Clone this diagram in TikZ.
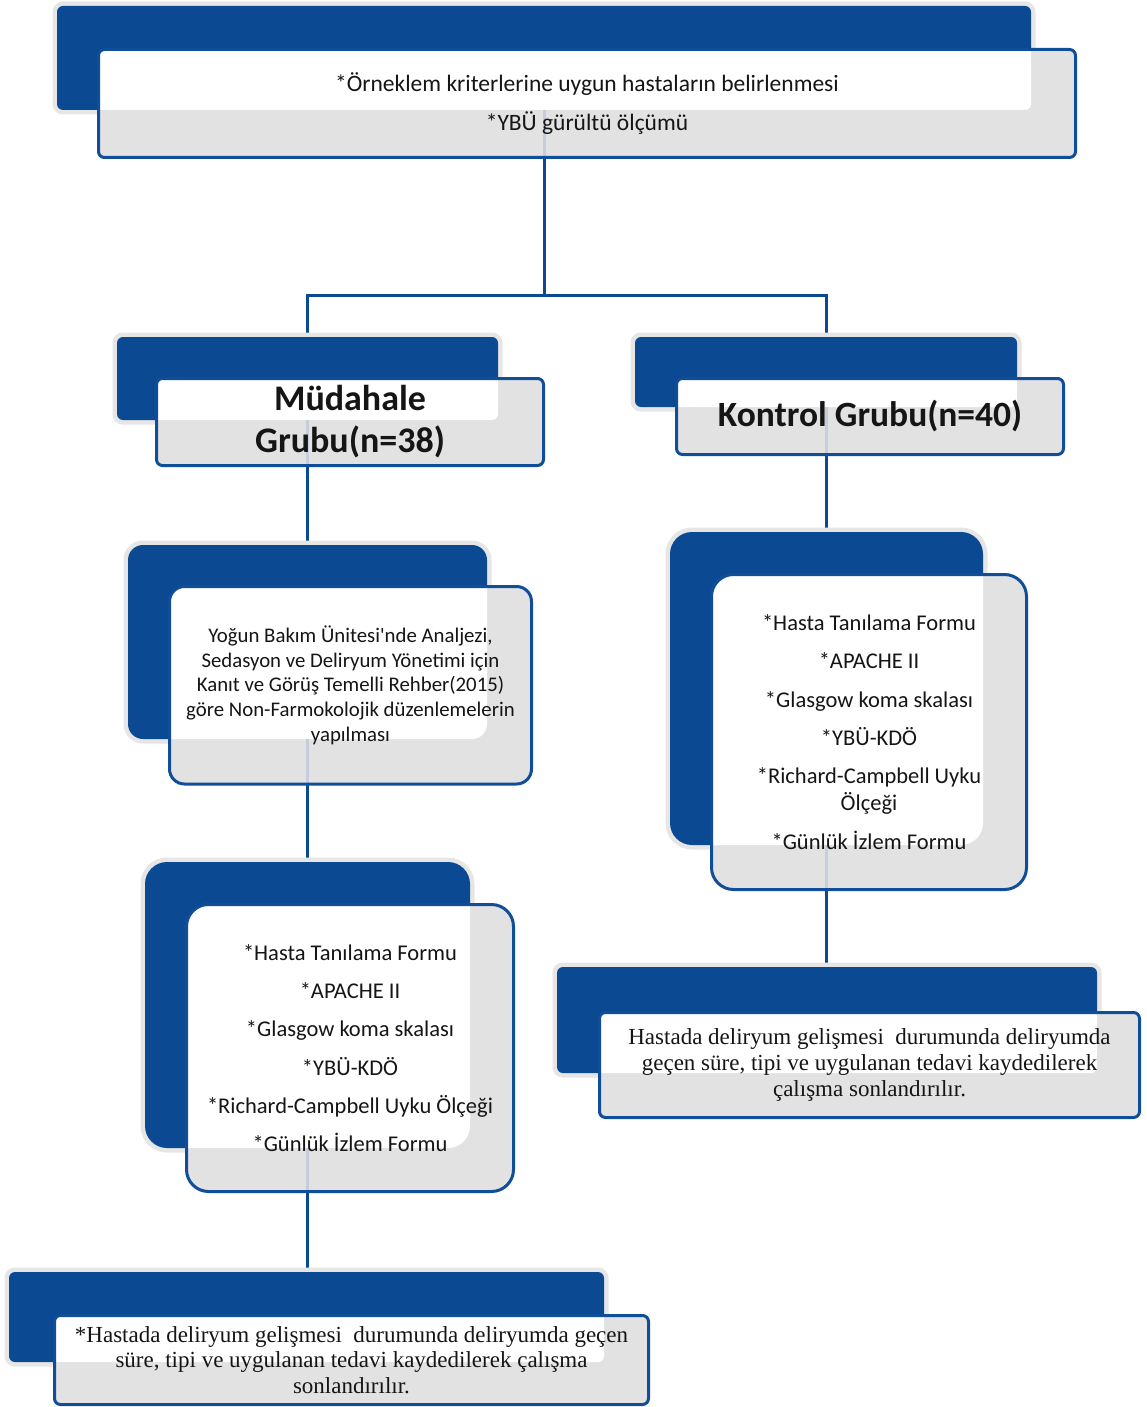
\documentclass[tikz,border=0pt]{standalone}
\usepackage{fontspec}
\setmainfont{Carlito}
\newfontfamily\tnr{Liberation Serif}
\usetikzlibrary{fit}
\pgfdeclarelayer{bg}
\pgfsetlayers{bg,main}
\definecolor{navy}{HTML}{0B4A93}
\definecolor{edgeblue}{HTML}{114E99}
\definecolor{frontgrey}{HTML}{E2E2E2}
\definecolor{halo}{HTML}{E6E6E6}
\definecolor{ghost}{HTML}{C5CEDA}
\definecolor{ink}{HTML}{151515}
\tikzset{
  conn/.style={draw=navy, line width=3pt},
  ghostline/.style={draw=ghost, line width=3pt, shorten >=1.5pt},
  txt/.style={align=center, text=ink, inner sep=0pt},
}
\newcommand\twobox[9]{%
  \draw[halo, line width=9pt, rounded corners=\boxrad] (#2,#3) rectangle (#4,#5);
  \fill[navy, rounded corners=\boxrad] (#2,#3) rectangle (#4,#5);
  \fill[frontgrey, rounded corners=\boxrad] (#6,#7) rectangle (#8,#9);
  \begin{scope}
    \clip[rounded corners=\boxrad] (#6,#7) rectangle (#8,#9);
    \fill[white, rounded corners=\boxrad] (#2,#3) rectangle (#4,#5);
  \end{scope}
  \node[inner sep=0pt, fit={(#2,#3)(#4,#5)}] (#1b) {};
  \node[inner sep=0pt, fit={(#6,#7)(#8,#9)}] (#1) {};
}
\newcommand\frontedge[4]{%
  \draw[edgeblue, line width=3pt, rounded corners=\boxrad] (#1,#2) rectangle (#3,#4);
}
\begin{document}
\begin{tikzpicture}[x=1pt,y=-1pt]
\useasboundingbox (0,0) rectangle (1146,1407);

% boxes
\def\boxrad{6pt}
\twobox{top}{57}{6}{1031}{110}{98.5}{49.5}{1075.5}{157.5}
\twobox{mud}{117}{337}{498}{420}{156.5}{378.5}{543.5}{465.5}
\twobox{kon}{635}{337}{1017}{407}{676.5}{378.5}{1063.5}{454.5}
\def\boxrad{15pt}
\twobox{yog}{128}{545}{487}{739}{169.5}{586.5}{531.5}{784}
\def\boxrad{22pt}
\twobox{hr}{670}{532}{983}{845}{711.5}{574.5}{1026.5}{889.5}
\twobox{hl}{145}{862}{470}{1148}{186.5}{904.5}{513.5}{1191.5}
\def\boxrad{6pt}
\twobox{bl}{9}{1272}{604}{1362}{54.5}{1315.5}{648.5}{1404.5}
\twobox{br}{557}{967}{1097}{1073}{599.5}{1012.5}{1139.5}{1117.5}

% connectors (behind the boxes)
\coordinate (j0) at (544,295);
\coordinate (jl) at (307,295);
\coordinate (jr) at (826,295);
\begin{pgfonlayer}{bg}
\fill[white] (0,0) rectangle (1146,1407);
\draw[conn] (top.south -| j0) -- (j0);
\draw[conn] (mudb.north -| jl) -- (jl) -- (jr) -- (konb.north -| jr);
\draw[conn] (mud.south -| jl) -- (yogb.north -| jl);
\draw[conn] (yog.south -| jl) -- (hlb.north -| jl);
\draw[conn] (hl.south -| jl) -- (blb.north -| jl);
\draw[conn] (kon.south -| jr) -- (hrb.north -| jr);
\draw[conn] (hr.south -| jr) -- (brb.north -| jr);
\end{pgfonlayer}

% faint connector traces seen through the front boxes
\draw[ghostline] (topb.south -| j0) -- (top.south -| j0);
\draw[ghostline] (mudb.south -| jl) -- (mud.south -| jl);
\draw[ghostline] (konb.south -| jr) -- (kon.south -| jr);
\draw[ghostline] (yogb.south -| jl) -- (yog.south -| jl);
\draw[ghostline] (hlb.south -| jl) -- (hl.south -| jl);
\draw[ghostline] (hrb.south -| jr) -- (hr.south -| jr);

% front borders
\def\boxrad{6pt}
\frontedge{98.5}{49.5}{1075.5}{157.5}
\frontedge{156.5}{378.5}{543.5}{465.5}
\frontedge{676.5}{378.5}{1063.5}{454.5}
\frontedge{54.5}{1315.5}{648.5}{1404.5}
\frontedge{599.5}{1012.5}{1139.5}{1117.5}
\def\boxrad{15pt}
\frontedge{169.5}{586.5}{531.5}{784}
\def\boxrad{22pt}
\frontedge{711.5}{574.5}{1026.5}{889.5}
\frontedge{186.5}{904.5}{513.5}{1191.5}

% texts
\node[txt, font=\fontsize{23.5}{39}\selectfont] (t0) at (top.center)
  {*Örneklem kriterlerine uygun hastaların belirlenmesi\\*YBÜ gürültü ölçümü};
\node[txt, font=\bfseries\fontsize{36}{42}\selectfont] (t1) at (mud.center)
  {Müdahale\\Grubu(n=38)};
\node[txt, font=\bfseries\fontsize{35.5}{42}\selectfont] (t2) at (kon.center)
  {Kontrol Grubu(n=40)};
\node[txt, font=\fontsize{20.8}{24.7}\selectfont] (t3) at (yog.center)
  {Yoğun Bakım Ünitesi\textquotesingle nde Analjezi,\\Sedasyon ve Deliryum Yönetimi için\\Kanıt ve Görüş Temelli Rehber(2015)\\göre Non-Farmokolojik düzenlemelerin\\yapılması};
\node[txt, font=\fontsize{22.5}{38.2}\selectfont] (t4) at (hl.center)
  {*Hasta Tanılama Formu\\*APACHE II\\*Glasgow koma skalası\\*YBÜ-KDÖ\\*Richard-Campbell Uyku Ölçeği\\*Günlük İzlem Formu};
\node[txt, font=\fontsize{22.5}{27}\selectfont] (t5) at (hr.center)
  {*Hasta Tanılama Formu\\[11.3pt]*APACHE II\\[11.3pt]*Glasgow koma skalası\\[11.3pt]*YBÜ-KDÖ\\[11.3pt]*Richard-Campbell Uyku\\Ölçeği\\[11.3pt]*Günlük İzlem Formu};
\node[txt, font=\tnr\fontsize{23}{25.7}\selectfont] (t6) at (bl.center)
  {*Hastada deliryum gelişmesi\ \ durumunda deliryumda geçen\\süre, tipi ve uygulanan tedavi kaydedilerek çalışma\\sonlandırılır.};
\node[txt, font=\tnr\fontsize{23}{25.7}\selectfont] (t7) at (br.center)
  {Hastada deliryum gelişmesi\ \ durumunda deliryumda\\geçen süre, tipi ve uygulanan tedavi kaydedilerek\\çalışma sonlandırılır.};
\end{tikzpicture}
\end{document}
